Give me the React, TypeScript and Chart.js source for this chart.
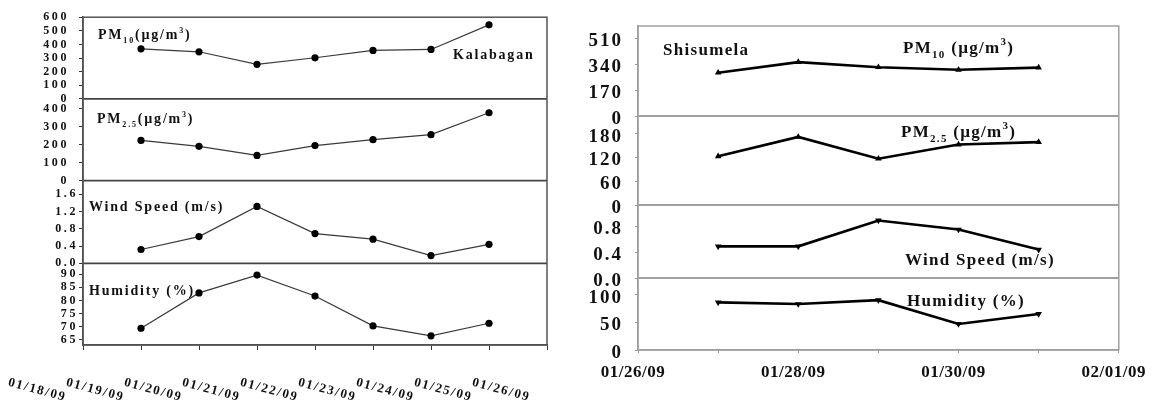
import React, { useEffect, useRef } from 'react';
import { Chart, registerables } from 'chart.js';

Chart.register(...registerables);

const FONT = '"Liberation Serif", "Times New Roman", serif';

// ---------- Kalabagan (left panel) ----------
const kalabaganDates = ['01/20/09', '01/21/09', '01/22/09', '01/23/09', '01/24/09', '01/25/09', '01/26/09'];
const kalabaganPM10 = [368, 346, 254, 302, 356, 363, 544];
const kalabaganPM25 = [224, 191, 140, 195, 228, 256, 378];
const kalabaganWind = [0.32, 0.62, 1.32, 0.69, 0.56, 0.18, 0.44];
const kalabaganHumidity = [69.4, 82.9, 89.7, 81.7, 70.3, 66.5, 71.3];
const kalabaganTickLabels = ['01/18/09', '01/19/09', '01/20/09', '01/21/09', '01/22/09', '01/23/09', '01/24/09', '01/25/09', '01/26/09'];
const kalabaganRange = ['01/19/09', '01/27/09'];

// ---------- Shisumela (right panel) ----------
const shisumelaDates = ['01/27/09', '01/28/09', '01/29/09', '01/30/09', '01/31/09'];
const shisumelaPM10 = [284, 353, 320, 303, 317];
const shisumelaPM25 = [123, 172, 117, 153, 159];
const shisumelaWind = [0.49, 0.49, 0.89, 0.75, 0.44];
const shisumelaHumidity = [86, 83, 90, 47, 65];
const shisumelaTickLabels = ['01/26/09', '01/28/09', '01/30/09', '02/01/09'];
const shisumelaRange = ['01/26/09', '02/01/09'];

function toDay(s: string): number {
  const [mm, dd, yy] = s.split('/').map(Number);
  return Date.UTC(2000 + yy, mm - 1, dd) / 86400000;
}

type Part = { t: string; size: number; dy?: number };
type Note = { scale: string; dx: number; dy: number; parts: Part[] };

function drawRich(ctx: CanvasRenderingContext2D, x: number, y: number, parts: Part[], ls: number, color: string) {
  ctx.save();
  ctx.fillStyle = color;
  ctx.textAlign = 'left';
  ctx.textBaseline = 'alphabetic';
  (ctx as any).letterSpacing = ls + 'px';
  let cx = x;
  for (const p of parts) {
    ctx.font = `bold ${p.size}px ${FONT}`;
    ctx.fillText(p.t, cx, y + (p.dy || 0));
    cx += ctx.measureText(p.t).width;
  }
  ctx.restore();
}

const pm = (sub: string, big: number, small: number, sep: string): Part[] => [
  { t: 'PM', size: big },
  { t: sub, size: small, dy: Math.round(big * 0.3) },
  { t: sep + '(µg/m', size: big },
  { t: '3', size: small, dy: -Math.round(big * 0.45) },
  { t: ')', size: big },
];

type PanelCfg = {
  yIds: string[];
  frameColor: string;
  frameWidth: number;
  dividerColor: string;
  dividerWidth: number;
  scaleLs: Record<string, number>;
  notes: Note[];
  noteLs: number;
  noteColor: string;
  customX?: { labels: string[]; font: number; ls: number; dx: number; dy: number; angle: number };
};

function panelPlugin(cfg: PanelCfg) {
  return {
    id: 'panelDeco',
    afterLayout(chart: any) {
      for (const [id, ls] of Object.entries(cfg.scaleLs)) {
        const s = chart.scales[id];
        if (!s || s.__ls) continue;
        const proto = Object.getPrototypeOf(s);
        s.drawLabels = function (ca: any) {
          const c = this.ctx;
          c.save();
          c.letterSpacing = ls + 'px';
          proto.drawLabels.call(this, ca);
          c.restore();
        };
        s.__ls = true;
      }
    },
    afterDraw(chart: any) {
      const { ctx, chartArea } = chart;
      ctx.save();
      ctx.strokeStyle = cfg.dividerColor;
      ctx.lineWidth = cfg.dividerWidth;
      for (const id of cfg.yIds.slice(0, -1)) {
        const s = chart.scales[id];
        ctx.beginPath();
        ctx.moveTo(chartArea.left, s.bottom);
        ctx.lineTo(chartArea.right, s.bottom);
        ctx.stroke();
      }
      ctx.strokeStyle = cfg.frameColor;
      ctx.lineWidth = cfg.frameWidth;
      ctx.strokeRect(chartArea.left, chartArea.top, chartArea.right - chartArea.left, chartArea.bottom - chartArea.top);
      ctx.restore();

      for (const n of cfg.notes) {
        const s = chart.scales[n.scale];
        drawRich(ctx, chartArea.left + n.dx, s.top + n.dy, n.parts, cfg.noteLs, cfg.noteColor);
      }

      if (cfg.customX) {
        const cx = cfg.customX;
        const xs = chart.scales.x;
        ctx.save();
        ctx.font = `bold ${cx.font}px ${FONT}`;
        ctx.letterSpacing = cx.ls + 'px';
        ctx.fillStyle = cfg.noteColor;
        ctx.textAlign = 'left';
        ctx.textBaseline = 'top';
        for (const lbl of cx.labels) {
          const px = xs.getPixelForValue(toDay(lbl));
          ctx.save();
          ctx.translate(px + cx.dx, chartArea.bottom + cx.dy);
          ctx.rotate((cx.angle * Math.PI) / 180);
          ctx.fillText(lbl, 0, 0);
          ctx.restore();
        }
        ctx.restore();
      }
    },
  };
}

type YOpt = {
  min: number; max: number; step: number; weight: number; order: number; width: number;
  fontSize: number; pad: number; tickLength: number; tickColor: string; axisColor: string; axisWidth: number;
  labelOffset: number; fmt: (v: number) => string;
};

function yScale(o: YOpt) {
  return {
    type: 'linear',
    position: 'left',
    stack: 'panel',
    stackWeight: o.weight,
    weight: o.order,
    min: o.min,
    max: o.max,
    afterFit: (s: any) => { s.width = o.width; },
    ticks: {
      stepSize: o.step,
      includeBounds: false,
      autoSkip: false,
      padding: o.pad,
      color: '#111',
      labelOffset: o.labelOffset,
      font: { family: FONT, size: o.fontSize, weight: 'bold' },
      callback: (v: any) => o.fmt(Number(v)),
    },
    grid: { display: true, drawOnChartArea: false, drawTicks: true, tickLength: o.tickLength, color: o.tickColor, lineWidth: 1 },
    border: { display: true, color: o.axisColor, width: o.axisWidth },
  };
}

const int = (v: number) => String(Math.round(v));
const one = (v: number) => v.toFixed(1);

function series(dates: string[], vals: number[]) {
  return dates.map((d, i) => ({ x: toDay(d), y: vals[i] }));
}

function kalabaganConfig(): any {
  const base = { width: 83, fontSize: 12, pad: 1, tickLength: 4, tickColor: '#333', axisColor: '#444', axisWidth: 1.5, labelOffset: 0 };
  const ds = (vals: number[], yAxisID: string) => ({
    data: series(kalabaganDates, vals),
    yAxisID,
    xAxisID: 'x',
    borderColor: '#3a3a3a',
    borderWidth: 1.2,
    pointStyle: 'circle',
    pointRadius: 3.6,
    pointBackgroundColor: '#000',
    pointBorderColor: '#000',
    pointBorderWidth: 0,
    tension: 0,
  });
  return {
    type: 'line',
    data: {
      datasets: [
        ds(kalabaganPM10, 'y1'),
        ds(kalabaganPM25, 'y2'),
        ds(kalabaganWind, 'y3'),
        ds(kalabaganHumidity, 'y4'),
      ],
    },
    options: {
      responsive: false,
      animation: false,
      layout: { padding: { left: 0, top: 16, right: 33, bottom: 0 } },
      plugins: { legend: { display: false }, tooltip: { enabled: false } },
      scales: {
        x: {
          type: 'linear',
          position: 'bottom',
          min: toDay(kalabaganRange[0]),
          max: toDay(kalabaganRange[1]),
          afterFit: (s: any) => { s.height = 64; },
          ticks: { display: false, stepSize: 1, autoSkip: false },
          grid: { drawOnChartArea: false, drawTicks: true, tickLength: 5, color: '#333' },
          border: { display: true, color: '#444', width: 1.5 },
        },
        y1: yScale({ ...base, pad: 10, min: 0, max: 600, step: 100, weight: 82, order: 4, fmt: int }),
        y2: yScale({ ...base, pad: 10, min: 0, max: 455, step: 100, weight: 82, order: 3, fmt: int }),
        y3: yScale({ ...base, pad: 1, min: 0, max: 1.92, step: 0.4, weight: 83, order: 2, fmt: one }),
        y4: yScale({ ...base, pad: 1, min: 63, max: 94.2, step: 5, weight: 82, order: 1, fmt: int }),
      },
    },
    plugins: [
      panelPlugin({
        yIds: ['y1', 'y2', 'y3', 'y4'],
        frameColor: '#555',
        frameWidth: 1.5,
        dividerColor: '#444',
        dividerWidth: 1.8,
        scaleLs: { y1: 2.6, y2: 2.6, y3: 2.6, y4: 2.6 },
        noteLs: 1.8,
        noteColor: '#111',
        notes: [
          { scale: 'y1', dx: 15, dy: 22, parts: pm('10', 14, 8, '') },
          { scale: 'y1', dx: 370, dy: 42, parts: [{ t: 'Kalabagan', size: 14 }] },
          { scale: 'y2', dx: 14, dy: 24, parts: pm('2.5', 14, 8, '') },
          { scale: 'y3', dx: 6, dy: 30, parts: [{ t: 'Wind Speed (m/s)', size: 14 }] },
          { scale: 'y4', dx: 6, dy: 32, parts: [{ t: 'Humidity (%)', size: 14 }] },
        ],
        customX: { labels: kalabaganTickLabels, font: 13, ls: 1.7, dx: -15, dy: 31, angle: 15 },
      }),
    ],
  };
}

function shisumelaConfig(): any {
  const base = { width: 58, fontSize: 19, pad: 12, tickLength: 3, tickColor: '#999', axisColor: '#999', axisWidth: 1.5, labelOffset: 3 };
  const ds = (vals: number[], yAxisID: string, rot: number) => ({
    data: series(shisumelaDates, vals),
    yAxisID,
    xAxisID: 'x',
    borderColor: '#000',
    borderWidth: 2.6,
    pointStyle: 'triangle',
    pointRotation: rot,
    pointRadius: 3.8,
    pointBackgroundColor: '#000',
    pointBorderColor: '#000',
    pointBorderWidth: 0,
    tension: 0,
  });
  const labelMap: Record<number, string> = {};
  shisumelaTickLabels.forEach((l) => { labelMap[toDay(l)] = l; });
  return {
    type: 'line',
    data: {
      datasets: [
        ds(shisumelaPM10, 'y1', 0),
        ds(shisumelaPM25, 'y2', 0),
        ds(shisumelaWind, 'y3', 180),
        ds(shisumelaHumidity, 'y4', 180),
      ],
    },
    options: {
      responsive: false,
      animation: false,
      layout: { padding: { left: 0, top: 26, right: 31, bottom: 0 } },
      plugins: { legend: { display: false }, tooltip: { enabled: false } },
      scales: {
        x: {
          type: 'linear',
          position: 'bottom',
          min: toDay(shisumelaRange[0]),
          max: toDay(shisumelaRange[1]),
          afterFit: (s: any) => { s.height = 59; },
          ticks: {
            stepSize: 1,
            autoSkip: false,
            maxRotation: 0,
            minRotation: 0,
            padding: 9,
            labelOffset: -5,
            color: '#111',
            font: { family: FONT, size: 17, weight: 'bold' },
            callback: (v: any) => labelMap[Number(v)] ?? '',
          },
          grid: { drawOnChartArea: false, drawTicks: true, tickLength: 3, color: '#999' },
          border: { display: true, color: '#999', width: 1.5 },
        },
        y1: yScale({ ...base, min: 0, max: 590, step: 170, weight: 90, order: 4, fmt: int }),
        y2: yScale({ ...base, min: 0, max: 225, step: 60, weight: 89, order: 3, fmt: int }),
        y3: yScale({ ...base, min: 0, max: 1.13, step: 0.4, weight: 73, order: 2, fmt: one }),
        y4: yScale({ ...base, min: 0, max: 130, step: 50, weight: 72, order: 1, fmt: int }),
      },
    },
    plugins: [
      panelPlugin({
        yIds: ['y1', 'y2', 'y3', 'y4'],
        frameColor: '#a0a0a0',
        frameWidth: 1.5,
        dividerColor: '#a0a0a0',
        dividerWidth: 1.8,
        scaleLs: { x: 0.5, y1: 2, y2: 2, y3: 2, y4: 2 },
        noteLs: 1.3,
        noteColor: '#111',
        notes: [
          { scale: 'y1', dx: 25, dy: 29, parts: [{ t: 'Shisumela', size: 17 }] },
          { scale: 'y1', dx: 265, dy: 27, parts: pm('10', 17, 11, ' ') },
          { scale: 'y2', dx: 263, dy: 21, parts: pm('2.5', 17, 11, ' ') },
          { scale: 'y3', dx: 267, dy: 60, parts: [{ t: 'Wind Speed (m/s)', size: 17 }] },
          { scale: 'y4', dx: 269, dy: 28, parts: [{ t: 'Humidity (%)', size: 17 }] },
        ],
      }),
    ],
  };
}

function Panel({ left, width, build }: { left: number; width: number; build: () => any }) {
  const ref = useRef<HTMLCanvasElement>(null);
  useEffect(() => {
    const chart = new Chart(ref.current as HTMLCanvasElement, build());
    return () => chart.destroy();
  }, []);
  return (
    <canvas
      ref={ref}
      width={width}
      height={409}
      style={{ position: 'absolute', left, top: 0, width, height: 409 }}
    />
  );
}

export default function App() {
  return (
    <div style={{ position: 'fixed', left: 0, top: 0, width: 1158, height: 409, background: '#fff', overflow: 'hidden' }}>
      <Panel left={0} width={580} build={kalabaganConfig} />
      <Panel left={580} width={578} build={shisumelaConfig} />
    </div>
  );
}
